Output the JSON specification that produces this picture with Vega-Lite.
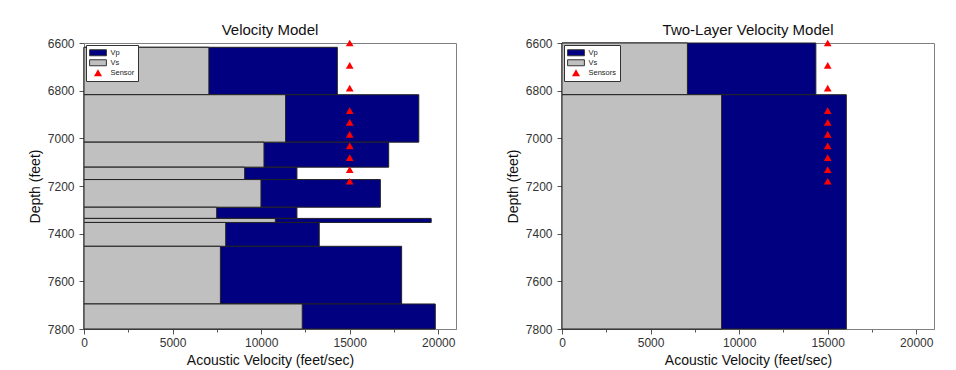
{
  "$schema": "https://vega.github.io/schema/vega-lite/v6.json",
  "background": "white",
  "padding": {"left": 27, "top": 22, "right": 0, "bottom": 0},
  "bounds": "flush",
  "spacing": 106,
  "config": {
    "font": "Liberation Sans",
    "view": {"stroke": "#808080", "strokeWidth": 1},
    "title": {"fontSize": 15, "fontWeight": "normal", "color": "#111", "offset": -1, "anchor": "middle"},
    "axis": {
      "grid": false,
      "labelFontSize": 12,
      "labelColor": "#333",
      "titleFontSize": 14,
      "titleFontWeight": "normal",
      "titleColor": "#111",
      "domainColor": "#808080",
      "tickColor": "#555",
      "labelOverlap": false,
      "labelFlush": false
    }
  },
  "resolve": {"scale": {"color": "independent"}, "legend": {"color": "independent"}},
  "datasets": {
    "left_layers": [
      {"top": 6618, "bottom": 6817, "series": "Vp", "velocity": 14300},
      {"top": 6817, "bottom": 7016, "series": "Vp", "velocity": 18900},
      {"top": 7016, "bottom": 7121, "series": "Vp", "velocity": 17200},
      {"top": 7121, "bottom": 7173, "series": "Vp", "velocity": 12020},
      {"top": 7173, "bottom": 7289, "series": "Vp", "velocity": 16730},
      {"top": 7289, "bottom": 7336, "series": "Vp", "velocity": 12020},
      {"top": 7336, "bottom": 7353, "series": "Vp", "velocity": 19600},
      {"top": 7353, "bottom": 7453, "series": "Vp", "velocity": 13280},
      {"top": 7453, "bottom": 7695, "series": "Vp", "velocity": 17930},
      {"top": 7695, "bottom": 7800, "series": "Vp", "velocity": 19830},
      {"top": 6618, "bottom": 6817, "series": "Vs", "velocity": 7050},
      {"top": 6817, "bottom": 7016, "series": "Vs", "velocity": 11380},
      {"top": 7016, "bottom": 7121, "series": "Vs", "velocity": 10160},
      {"top": 7121, "bottom": 7173, "series": "Vs", "velocity": 9070},
      {"top": 7173, "bottom": 7289, "series": "Vs", "velocity": 9990},
      {"top": 7289, "bottom": 7336, "series": "Vs", "velocity": 7490},
      {"top": 7336, "bottom": 7353, "series": "Vs", "velocity": 10800},
      {"top": 7353, "bottom": 7453, "series": "Vs", "velocity": 8000},
      {"top": 7453, "bottom": 7695, "series": "Vs", "velocity": 7700},
      {"top": 7695, "bottom": 7800, "series": "Vs", "velocity": 12320}
    ],
    "left_sensors": [
      {"depth": 6600, "velocity": 15000, "series": "Sensor"},
      {"depth": 6694, "velocity": 15000, "series": "Sensor"},
      {"depth": 6789, "velocity": 15000, "series": "Sensor"},
      {"depth": 6884, "velocity": 15000, "series": "Sensor"},
      {"depth": 6933, "velocity": 15000, "series": "Sensor"},
      {"depth": 6983, "velocity": 15000, "series": "Sensor"},
      {"depth": 7032, "velocity": 15000, "series": "Sensor"},
      {"depth": 7081, "velocity": 15000, "series": "Sensor"},
      {"depth": 7131, "velocity": 15000, "series": "Sensor"},
      {"depth": 7180, "velocity": 15000, "series": "Sensor"}
    ],
    "right_layers": [
      {"top": 6600, "bottom": 6817, "series": "Vp", "velocity": 14330},
      {"top": 6817, "bottom": 7800, "series": "Vp", "velocity": 16050},
      {"top": 6600, "bottom": 6817, "series": "Vs", "velocity": 7080},
      {"top": 6817, "bottom": 7800, "series": "Vs", "velocity": 9010}
    ],
    "right_sensors": [
      {"depth": 6600, "velocity": 15000, "series": "Sensors"},
      {"depth": 6694, "velocity": 15000, "series": "Sensors"},
      {"depth": 6789, "velocity": 15000, "series": "Sensors"},
      {"depth": 6884, "velocity": 15000, "series": "Sensors"},
      {"depth": 6933, "velocity": 15000, "series": "Sensors"},
      {"depth": 6983, "velocity": 15000, "series": "Sensors"},
      {"depth": 7032, "velocity": 15000, "series": "Sensors"},
      {"depth": 7081, "velocity": 15000, "series": "Sensors"},
      {"depth": 7131, "velocity": 15000, "series": "Sensors"},
      {"depth": 7180, "velocity": 15000, "series": "Sensors"}
    ]
  },
  "hconcat": [
    {
      "width": 372,
      "height": 286,
      "title": "Velocity Model",
      "layer": [
        {
          "data": {"name": "left_layers"},
          "mark": {"type": "rect", "stroke": "#222", "strokeWidth": 1},
          "encoding": {
            "x": {"field": "velocity", "type": "quantitative",
              "scale": {"domain": [0, 21000], "nice": false, "zero": false},
              "axis": {"title": "Acoustic Velocity (feet/sec)", "format": "d",
                "values": [0,1250,2500,3750,5000,6250,7500,8750,10000,11250,12500,13750,15000,16250,17500,18750,20000],
                "labelExpr": "datum.value % 5000 === 0 ? datum.label : ''",
                "tickSize": {"condition": {"test": "datum.value % 5000 === 0", "value": 5}, "value": 3},
                "labelPadding": 3, "titlePadding": 5}},
            "x2": {"datum": 0},
            "y": {"field": "top", "type": "quantitative",
              "scale": {"domain": [6600, 7800], "reverse": true, "nice": false, "zero": false},
              "axis": {"title": "Depth (feet)", "format": "d",
                "values": [6600,6650,6700,6750,6800,6850,6900,6950,7000,7050,7100,7150,7200,7250,7300,7350,7400,7450,7500,7550,7600,7650,7700,7750,7800],
                "labelExpr": "datum.value % 200 === 0 ? datum.label : ''",
                "tickSize": {"condition": {"test": "datum.value % 200 === 0", "value": 5}, "value": 3},
                "labelPadding": 5, "titlePadding": 5}},
            "y2": {"field": "bottom"},
            "color": {"field": "series", "type": "nominal",
              "scale": {"domain": ["Vp", "Vs", "Sensor"], "range": ["#000080", "#c0c0c0", "#ff0000"]},
              "legend": {
                "title": null, "orient": "top-left", "offset": 2,
                "fillColor": "white", "strokeColor": "#333", "padding": 3,
                "labelFontSize": 7.5, "labelColor": "#222", "labelOffset": 8,
                "rowPadding": 0, "clipHeight": 9.5,
                "symbolSize": 64, "symbolOffset": 4.5, "symbolStrokeWidth": 1, "symbolOpacity": 1,
                "symbolType": {"expr": "datum.value === 'Sensor' || datum.value === 'Sensors' ? 'triangle-up' : 'M-2.1,-0.75H2.1V0.75H-2.1Z'"},
                "symbolStrokeColor": {"expr": "datum.value === 'Sensor' || datum.value === 'Sensors' ? 'transparent' : '#333'"}
              }}
          }
        },
        {
          "data": {"name": "left_sensors"},
          "mark": {"type": "point", "shape": "triangle-up", "filled": true, "size": 60, "opacity": 1},
          "encoding": {
            "x": {"field": "velocity", "type": "quantitative"},
            "y": {"field": "depth", "type": "quantitative"},
            "color": {"field": "series", "type": "nominal"}
          }
        }
      ]
    },
    {
      "width": 372,
      "height": 286,
      "title": "Two-Layer Velocity Model",
      "layer": [
        {
          "data": {"name": "right_layers"},
          "mark": {"type": "rect", "stroke": "#222", "strokeWidth": 1},
          "encoding": {
            "x": {"field": "velocity", "type": "quantitative",
              "scale": {"domain": [0, 21000], "nice": false, "zero": false},
              "axis": {"title": "Acoustic Velocity (feet/sec)", "format": "d",
                "values": [0,1250,2500,3750,5000,6250,7500,8750,10000,11250,12500,13750,15000,16250,17500,18750,20000],
                "labelExpr": "datum.value % 5000 === 0 ? datum.label : ''",
                "tickSize": {"condition": {"test": "datum.value % 5000 === 0", "value": 5}, "value": 3},
                "labelPadding": 3, "titlePadding": 5}},
            "x2": {"datum": 0},
            "y": {"field": "top", "type": "quantitative",
              "scale": {"domain": [6600, 7800], "reverse": true, "nice": false, "zero": false},
              "axis": {"title": "Depth (feet)", "format": "d",
                "values": [6600,6650,6700,6750,6800,6850,6900,6950,7000,7050,7100,7150,7200,7250,7300,7350,7400,7450,7500,7550,7600,7650,7700,7750,7800],
                "labelExpr": "datum.value % 200 === 0 ? datum.label : ''",
                "tickSize": {"condition": {"test": "datum.value % 200 === 0", "value": 5}, "value": 3},
                "labelPadding": 5, "titlePadding": 5}},
            "y2": {"field": "bottom"},
            "color": {"field": "series", "type": "nominal",
              "scale": {"domain": ["Vp", "Vs", "Sensors"], "range": ["#000080", "#c0c0c0", "#ff0000"]},
              "legend": {
                "title": null, "orient": "top-left", "offset": 2,
                "fillColor": "white", "strokeColor": "#333", "padding": 3,
                "labelFontSize": 7.5, "labelColor": "#222", "labelOffset": 8,
                "rowPadding": 0, "clipHeight": 9.5,
                "symbolSize": 64, "symbolOffset": 4.5, "symbolStrokeWidth": 1, "symbolOpacity": 1,
                "symbolType": {"expr": "datum.value === 'Sensor' || datum.value === 'Sensors' ? 'triangle-up' : 'M-2.1,-0.75H2.1V0.75H-2.1Z'"},
                "symbolStrokeColor": {"expr": "datum.value === 'Sensor' || datum.value === 'Sensors' ? 'transparent' : '#333'"}
              }}
          }
        },
        {
          "data": {"name": "right_sensors"},
          "mark": {"type": "point", "shape": "triangle-up", "filled": true, "size": 60, "opacity": 1},
          "encoding": {
            "x": {"field": "velocity", "type": "quantitative"},
            "y": {"field": "depth", "type": "quantitative"},
            "color": {"field": "series", "type": "nominal"}
          }
        }
      ]
    }
  ]
}
